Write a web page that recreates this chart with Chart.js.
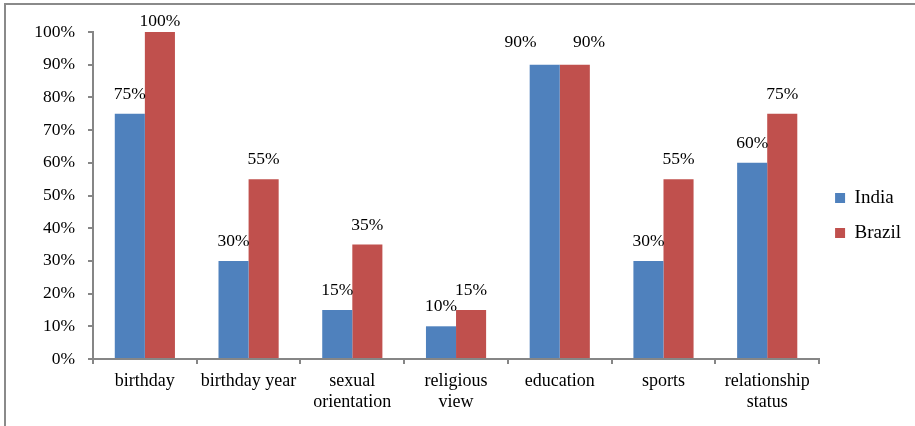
<!DOCTYPE html>
<html>
<head>
<meta charset="utf-8">
<script src="https://cdn.jsdelivr.net/npm/chart.js@4.4.1/dist/chart.umd.min.js"></script>
<style>
  html, body { margin: 0; padding: 0; background: #fff; }
  #wrap { position: relative; width: 915px; height: 426px; }
</style>
</head>
<body>
<div id="wrap"><canvas id="share"></canvas></div>
<script>
const categories = [
  'birthday',
  'birthday year',
  ['sexual', 'orientation'],
  ['religious', 'view'],
  'education',
  'sports',
  ['relationship', 'status']
];
const india = [75, 30, 15, 10, 90, 30, 60];
const brazil = [100, 55, 35, 15, 90, 55, 75];
const yTicks = [0, 10, 20, 30, 40, 50, 60, 70, 80, 90, 100];

const serif = "'Liberation Serif', 'Times New Roman', serif";
const axisGrey = '#868686';

// grey frame around the whole figure
const frame = {
  id: 'frame',
  beforeDraw(chart) {
    const ctx = chart.ctx;
    ctx.save();
    ctx.fillStyle = '#fff';
    ctx.fillRect(0, 0, chart.width, chart.height);
    ctx.strokeStyle = '#8a8a8a';
    ctx.lineWidth = 2;
    ctx.strokeRect(5, 4, chart.width + 10, chart.height + 20);
    ctx.restore();
  }
};

// lift the legend block so it sits level with the middle of the plot
const legendLift = {
  id: 'legendLift',
  afterLayout(chart) {
    const lg = chart.legend;
    lg.bottom -= 27;
    lg.height -= 27;
  }
};

// value labels above each bar; kept inside the frame near the top,
// and pushed apart when both bars of a group share the same height
const valueLabels = {
  id: 'valueLabels',
  afterDatasetsDraw(chart) {
    const ctx = chart.ctx;
    const area = chart.chartArea;
    const a = chart.getDatasetMeta(0).data;
    const b = chart.getDatasetMeta(1).data;
    ctx.save();
    ctx.font = '17.5px ' + serif;
    ctx.fillStyle = '#000';
    ctx.textAlign = 'center';
    ctx.textBaseline = 'alphabetic';
    a.forEach((barA, j) => {
      const barB = b[j];
      let xa = barA.x, xb = barB.x;
      let ya = Math.max(barA.y - 15, area.top - 6);
      let yb = Math.max(barB.y - 15, area.top - 6);
      if (Math.abs(barA.y - barB.y) < 2) {
        xa -= barA.width * 0.8;
        xb += barB.width * 0.47;
        ya -= 3;
        yb -= 3;
      }
      ctx.fillText(india[j] + '%', xa, ya);
      ctx.fillText(brazil[j] + '%', xb, yb);
    });
    ctx.restore();
  }
};

new Chart(document.getElementById('share'), {
  type: 'bar',
  data: {
    labels: categories,
    datasets: [
      { label: 'India', data: india, backgroundColor: '#4F81BD' },
      { label: 'Brazil', data: brazil, backgroundColor: '#C0504D' }
    ]
  },
  options: {
    responsive: true,
    maintainAspectRatio: false,
    animation: false,
    layout: { padding: { left: 0, top: 32, right: 4, bottom: 0 } },
    datasets: { bar: { categoryPercentage: 0.58, barPercentage: 1.0 } },
    plugins: {
      tooltip: { enabled: false },
      legend: {
        position: 'right',
        labels: {
          boxWidth: 10,
          boxHeight: 10,
          padding: 16,
          color: '#000',
          font: { family: serif, size: 19 }
        }
      }
    },
    scales: {
      x: {
        afterFit(scale) { scale.height = 67; },
        border: { color: axisGrey, width: 2 },
        grid: { offset: true, drawOnChartArea: false, drawTicks: true, tickLength: 5, color: axisGrey, lineWidth: 2 },
        ticks: {
          color: '#000',
          padding: 7,
          maxRotation: 0,
          autoSkip: false,
          font: { family: serif, size: 18, lineHeight: 1.15 }
        }
      },
      y: {
        min: 0,
        max: 100,
        afterFit(scale) { scale.width = 93; },
        afterBuildTicks(scale) { scale.ticks = yTicks.map(v => ({ value: v })); },
        border: { color: axisGrey, width: 2 },
        grid: { drawOnChartArea: false, drawTicks: true, tickLength: 5, color: axisGrey, lineWidth: 2 },
        ticks: {
          color: '#000',
          padding: 13,
          font: { family: serif, size: 17.5 },
          callback: v => v + '%'
        }
      }
    }
  },
  plugins: [frame, legendLift, valueLabels]
});
</script>
</body>
</html>
